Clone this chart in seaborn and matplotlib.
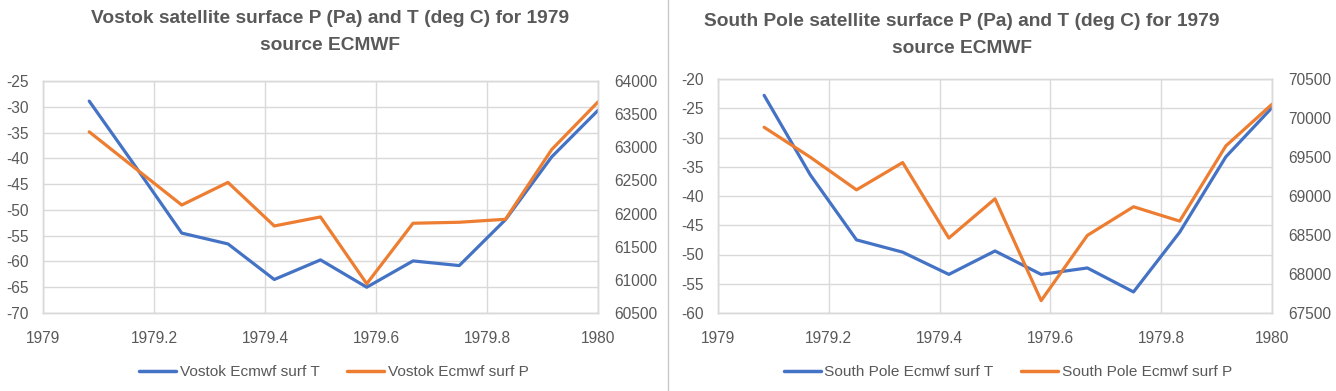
import matplotlib
matplotlib.use("Agg")
import matplotlib.pyplot as plt
import seaborn as sns
import pandas as pd
from matplotlib.lines import Line2D

# ---- data ----
decimal_year = [1979.0833, 1979.1667, 1979.25, 1979.3333, 1979.4167, 1979.5,
                1979.5833, 1979.6667, 1979.75, 1979.8333, 1979.9167, 1980.0]
vostok_T = [-28.9, -41.6, -54.5, -56.6, -63.5, -59.7, -65.0, -59.9, -60.8, -51.9, -39.7, -30.7]
vostok_P = [63233, 62680, 62129, 62470, 61813, 61949, 60941, 61854, 61869, 61914, 62967, 63684]
sp_T = [-22.8, -36.4, -47.5, -49.6, -53.4, -49.4, -53.4, -52.3, -56.4, -46.2, -33.3, -24.9]
sp_P = [69881, 69497, 69079, 69429, 68461, 68964, 67659, 68495, 68862, 68678, 69642, 70176]

titles = ["Vostok satellite surface P (Pa) and T (deg C) for 1979\nsource ECMWF",
          "South Pole satellite surface P (Pa) and T (deg C) for 1979\nsource ECMWF"]
labels_T = ["Vostok Ecmwf surf T", "South Pole Ecmwf surf T"]
labels_P = ["Vostok Ecmwf surf P", "South Pole Ecmwf surf P"]
x_ticks = [1979, 1979.2, 1979.4, 1979.6, 1979.8, 1980]
x_ticklabels = ["1979", "1979.2", "1979.4", "1979.6", "1979.8", "1980"]
left_ticks = [list(range(-70, -24, 5)), list(range(-60, -19, 5))]
right_ticks = [list(range(60500, 64001, 500)), list(range(67500, 70501, 500))]

sns.set_theme(style="white")
plt.rcParams['font.family'] = ['Liberation Sans', 'DejaVu Sans']
plt.rcParams['axes.unicode_minus'] = False

BLUE = "#4472C4"
ORANGE = "#ED7D31"
GRID = "#D9D9D9"
TXT = "#595959"

W, H = 1336, 391
fig = plt.figure(figsize=(W / 100, H / 100), dpi=100)

# axes rectangles in pixels: (left, top, right, bottom)
rects = [(43, 81, 598, 313), (718, 79, 1272, 313)]
title_x = [330, 962]
title_y = [32, 35]
legend_x = [334, 1008]

datasets = [(vostok_T, vostok_P), (sp_T, sp_P)]

for i, (tvals, pvals) in enumerate(datasets):
    l, t, r, b = rects[i]
    ax = fig.add_axes([l / W, 1 - b / H, (r - l) / W, (b - t) / H])
    ax2 = ax.twinx()
    df = pd.DataFrame({"x": decimal_year, "T": tvals, "P": pvals})
    sns.lineplot(data=df, x="x", y="T", ax=ax, color=BLUE, linewidth=2.3, label=labels_T[i], legend=False)
    sns.lineplot(data=df, x="x", y="P", ax=ax2, color=ORANGE, linewidth=2.3, label=labels_P[i], legend=False)

    ax.set_xlim(1979, 1980)
    ax.set_ylim(left_ticks[i][0], left_ticks[i][-1])
    ax2.set_ylim(right_ticks[i][0], right_ticks[i][-1])
    ax.set_xticks(x_ticks)
    ax.set_xticklabels(x_ticklabels)
    ax.set_yticks(left_ticks[i])
    ax2.set_yticks(right_ticks[i])
    ax.set_xlabel("")
    ax.set_ylabel("")
    ax2.set_ylabel("")
    ax.grid(True, color=GRID, linewidth=1.0)
    ax.set_axisbelow(True)
    ax2.grid(False)
    for a in (ax, ax2):
        for s in a.spines.values():
            s.set_color(GRID)
            s.set_linewidth(1.0)
        a.tick_params(length=0, labelsize=11.2, colors=TXT)
    ax.tick_params(axis='y', pad=10)
    ax2.tick_params(axis='y', pad=12)
    ax.tick_params(axis='x', pad=13)

    fig.text(title_x[i] / W, 1 - title_y[i] / H, titles[i], ha="center", va="center",
             fontsize=13.8, fontweight="bold", color=TXT, linespacing=1.75)

    handles = [Line2D([0], [0], color=BLUE, lw=2.5), Line2D([0], [0], color=ORANGE, lw=2.5)]
    fig.legend(handles, [labels_T[i], labels_P[i]], loc="center",
               bbox_to_anchor=(legend_x[i] / W, 1 - 372 / H), ncol=2, frameon=False,
               fontsize=11.1, labelcolor=TXT, handlelength=2.4, handletextpad=0.25,
               columnspacing=1.8)

fig.add_artist(Line2D([668 / W, 668 / W], [0, 1], transform=fig.transFigure, color="#C8C8C8", lw=1))

fig.savefig("out.png", dpi=100)
